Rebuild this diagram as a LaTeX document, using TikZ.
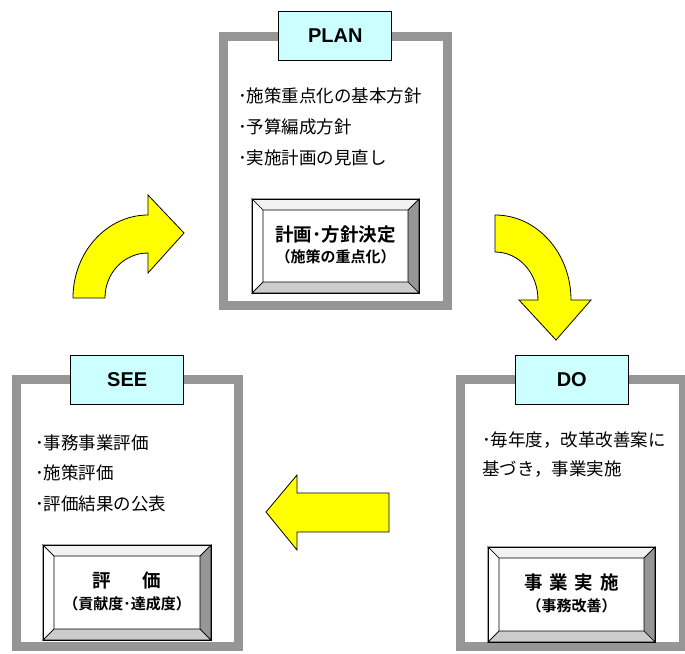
\documentclass[tikz,border=0pt]{standalone}
\usepackage{fontspec}
\newfontfamily\jpfont{Noto Sans CJK JP}[BoldFont={Noto Sans CJK JP Bold}]
\newfontfamily\tagfont{Liberation Sans}
\definecolor{framegray}{RGB}{150,150,150}
\definecolor{tagcyan}{RGB}{204,255,255}
\definecolor{arrowyellow}{RGB}{255,255,0}
\definecolor{beveltop}{RGB}{242,242,242}
\definecolor{bevelright}{RGB}{150,150,150}
\definecolor{bevelbottom}{RGB}{204,204,204}
\newcommand{\bevelbox}[7]{
  \fill[white] (#2,#3) rectangle (#4,#5);
  \filldraw[bevel, fill=beveltop] (#2,#3) -- (#4,#3) -- (#4-11,#3+11) -- (#2+11,#3+11) -- cycle;
  \filldraw[bevel, fill=white] (#2,#3) -- (#2+11,#3+11) -- (#2+11,#5-11) -- (#2,#5) -- cycle;
  \filldraw[bevel, fill=bevelright] (#4,#3) -- (#4,#5) -- (#4-11,#5-11) -- (#4-11,#3+11) -- cycle;
  \filldraw[bevel, fill=bevelbottom] (#2,#5) -- (#4,#5) -- (#4-11,#5-11) -- (#2+11,#5-11) -- cycle;
  \draw[bevel] (#2,#3) rectangle (#4,#5);
  \node[boxtitle] (#1) at (#2/2+#4/2, #3/2+#5/2-12) {#6};
  \node[boxsub] (#1sub) at (#2/2+#4/2, #3/2+#5/2+11) {#7};
}
\tikzset{
  stageframe/.style = {draw=framegray, line width=9pt, outer sep=0pt,
                       minimum height=267pt},
  stagetag/.style   = {draw, fill=tagcyan, line width=0.8pt, minimum width=113pt,
                       minimum height=49pt,
                       font=\tagfont\bfseries\fontsize{20}{24}\selectfont},
  item/.style       = {anchor=west, inner sep=0pt,
                       font=\jpfont\fontsize{17.5}{21}\selectfont},
  boxtitle/.style   = {inner sep=0pt, font=\jpfont\bfseries\fontsize{18.5}{22}\selectfont},
  boxsub/.style     = {inner sep=0pt, font=\jpfont\bfseries\fontsize{15}{18}\selectfont},
  bevel/.style      = {draw, line width=0.7pt},
  blockarrow/.style = {draw, fill=arrowyellow, line width=0.8pt, line join=miter}
}

\begin{document}
\begin{tikzpicture}[x=1pt, y=-1pt]
	\useasboundingbox (0,0) rectangle (685,653);
	\node[stageframe, minimum width=223.5pt, minimum height=269pt] (planframe) at (335.25,170.5) {};
	\node[stageframe, minimum width=221.5pt] (seeframe) at (127.25,513) {};
	\node[stageframe, minimum width=223.5pt] (doframe) at (571.75,513) {};
	\node[stagetag] (plantag) at (planframe.north) {PLAN};
	\node[stagetag] (seetag) at (seeframe.north) {SEE};
	\node[stagetag] (dotag) at (doframe.north) {DO};
	\node[item] (plan1) at (238,96) {･施策重点化の基本方針};
	\node[item] (plan2) at (238,127) {･予算編成方針};
	\node[item] (plan3) at (238,158) {･実施計画の見直し};
	\node[item] (see1) at (35,443) {･事務事業評価};
	\node[item] (see2) at (35,473) {･施策評価};
	\node[item] (see3) at (35,504) {･評価結果の公表};
	\node[item] (do1) at (482,440) {･毎年度，改革改善案に};
	\node[item] (do2) at (482,469) {基づき，事業実施};
	\bevelbox{planbox}{252}{199}{419}{293}{計画･方針決定}{（施策の重点化）}
	\bevelbox{seebox}{43}{545}{211}{640}{評\hspace{32pt}価}{（貢献度･達成度）}
	\bevelbox{dobox}{488}{547}{655}{642}{事\hspace{7pt}業\hspace{7pt}実\hspace{7pt}施}{（事務改善）}
	\filldraw[blockarrow] (73,298) .. controls (73,252) and (107,215) .. (148,215)
		-- (148,195) -- (184,233) -- (148,273) -- (148,253)
		.. controls (124,253) and (105,273) .. (105,298) -- cycle;
	\filldraw[blockarrow] (495,215) .. controls (537,215) and (571,253) .. (571,300)
		-- (591,300) -- (556,340) -- (519,300) -- (538,300)
		.. controls (538,273) and (519,252) .. (495,252) -- cycle;
	\filldraw[blockarrow] (389,493) -- (297,493) -- (297,475) -- (266,512)
		-- (297,550) -- (297,532) -- (389,532) -- cycle;
\end{tikzpicture}
\end{document}
